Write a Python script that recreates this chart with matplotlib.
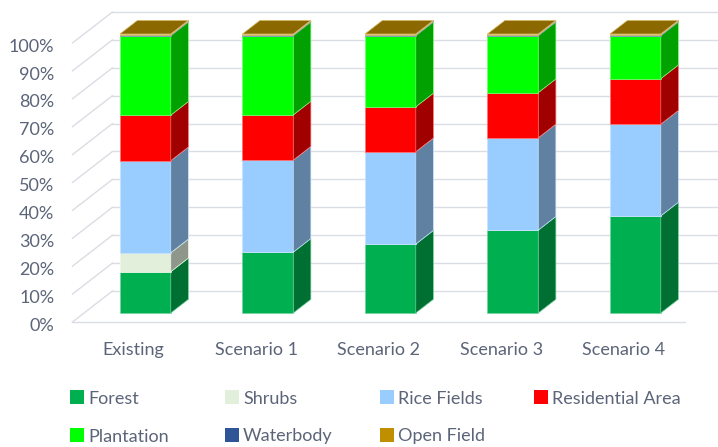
import matplotlib.pyplot as plt
from matplotlib.patches import Polygon, Rectangle
from matplotlib.colors import to_rgb

# land cover share (%) per scenario
categories = ['Existing', 'Scenario 1', 'Scenario 2', 'Scenario 3', 'Scenario 4']
forest = [14.8, 21.8, 24.7, 29.7, 34.8]
shrubs = [6.8, 0, 0, 0, 0]
rice_fields = [33.0, 33.0, 33.1, 33.1, 32.9]
residential = [16.3, 16.2, 16.1, 16.2, 16.3]
plantation = [28.5, 28.4, 25.5, 20.4, 15.4]
waterbody = [0.3, 0.3, 0.3, 0.3, 0.3]
open_field = [0.3, 0.3, 0.3, 0.3, 0.3]
y_ticks = [0, 10, 20, 30, 40, 50, 60, 70, 80, 90, 100]

series = [
    ('Forest', forest, '#00B050'),
    ('Shrubs', shrubs, '#E2EFDA'),
    ('Rice Fields', rice_fields, '#99CCFF'),
    ('Residential Area', residential, '#FF0000'),
    ('Plantation', plantation, '#00FF00'),
    ('Waterbody', waterbody, '#2F5597'),
    ('Open Field', open_field, '#BF8F00'),
]

TXT = '#5b6478'
GRID = '#dadde4'
FONT = 'Lato'

# oblique projection of the depth axis (depth 0 = floor front, 1 = back wall)
DX, DY = 0.3265, 11.11
T0, T1 = 0.29, 0.73          # front and back of the columns
BAR_W = 0.416
XL, XR = -0.5, 4.5


def proj(x, y, t):
    return x + DX * (t - T0), y + DY * (t - T0)


def shade(c, k):
    r, g, b = to_rgb(c)
    return (r * k, g * k, b * k)


def tint(c, k):
    r, g, b = to_rgb(c)
    return (r + (1 - r) * k, g + (1 - g) * k, b + (1 - b) * k)


fig = plt.figure(figsize=(7.18, 4.47), dpi=100)
ax = fig.add_axes([0, 0, 1, 1])
ax.set_xlim(-1.186, 4.675)
ax.set_ylim(-48.03, 112.19)
ax.axis('off')

# walls: back gridlines, side diagonals, floor front edge
for v in y_ticks:
    xa, ya = proj(XL, v, 1)
    xb, yb = proj(XR, v, 1)
    ax.plot([xa, xb], [ya, yb], color=GRID, lw=1.0, zorder=1)
    xc, yc = proj(XL, v, 0)
    ax.plot([xc, xa], [yc, ya], color=GRID, lw=1.0, zorder=1)
    ax.text(xc - 0.147, yc - 3.1, f'{v}%', ha='right', va='baseline',
            fontsize=13, color=TXT, family=FONT)
xa, ya = proj(XL, 0, 0)
xb, yb = proj(XR, 0, 0)
ax.plot([xa, xb], [ya, yb], color=GRID, lw=1.0, zorder=1)

# category labels on the floor front edge
for i, name in enumerate(categories):
    x, y = proj(i, 0, 0)
    ax.text(x, y - 11.8, name, ha='center', va='baseline',
            fontsize=13, color=TXT, family=FONT)

# stacked columns: front faces as bars, sides and top as polygons
ddx, ddy = DX * (T1 - T0), DY * (T1 - T0)
xs = list(range(len(categories)))
bottoms = [0.0] * len(categories)
for k, (name, vals, col) in enumerate(series):
    ax.bar(xs, vals, width=BAR_W, bottom=bottoms, color=col,
           edgecolor=tint(col, 0.45), linewidth=0.5, zorder=3)
    for i, v in enumerate(vals):
        if v <= 0:
            continue
        b = bottoms[i]
        xr = i + BAR_W / 2
        side = [(xr, b), (xr + ddx, b + ddy), (xr + ddx, b + v + ddy), (xr, b + v)]
        ax.add_patch(Polygon(side, closed=True, facecolor=shade(col, 0.63),
                             edgecolor=tint(col, 0.45), lw=0.5, zorder=3))
        if k == len(series) - 1:
            top = b + v
            xl = i - BAR_W / 2
            lid = [(xl, top), (xr, top), (xr + ddx, top + ddy), (xl + ddx, top + ddy)]
            ax.add_patch(Polygon(lid, closed=True, facecolor=shade(col, 0.73),
                                 edgecolor=tint(col, 0.45), lw=0.5, zorder=4))
    bottoms = [bottoms[i] + vals[i] for i in range(len(vals))]

# legend, two rows of four columns
W, H = 718.0, 447.0
col_x = [70, 225, 380, 534]
row_base = [404, 441.5]
for k, (name, vals, col) in enumerate(series):
    r, c = divmod(k, 4)
    mx, by = col_x[c], row_base[r]
    fig.add_artist(Rectangle((mx / W, 1 - by / H), 14 / W, 14 / H,
                             transform=fig.transFigure, facecolor=col,
                             edgecolor='none'))
    fig.text((mx + 18) / W, 1 - by / H, name, ha='left', va='baseline',
             fontsize=13, color=TXT, family=FONT)

fig.savefig('out.png', dpi=100)
